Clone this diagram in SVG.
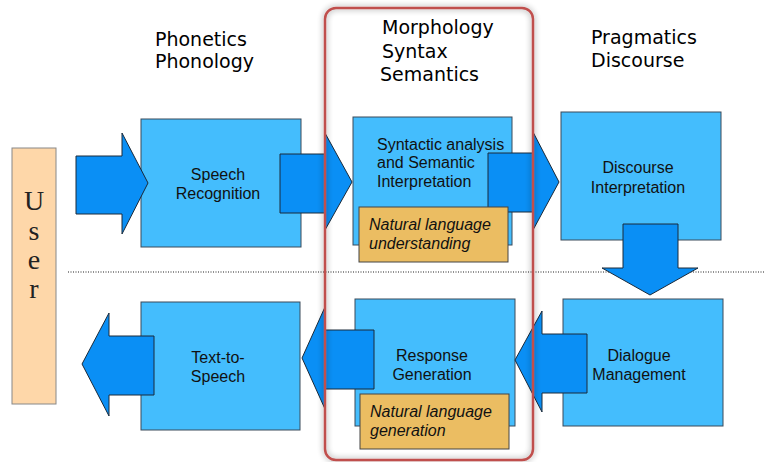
<svg xmlns="http://www.w3.org/2000/svg" width="765" height="462" viewBox="0 0 765 462">
  <defs>
    <style>
      .hdr { font-family: "DejaVu Sans", Verdana, sans-serif; font-size: 19px; fill: #000; }
      .box { fill: #44bdfd; stroke: #3a4a5a; stroke-width: 1; }
      .arrow { fill: #0a8ff5; stroke: #1a2a3a; stroke-width: 1; }
      .note { fill: #ebbd62; stroke: #444; stroke-width: 1; }
      .lbl { font-family: "Liberation Sans", Arial, sans-serif; font-size: 16px; fill: #111; }
      .mid { text-anchor: middle; }
      .it { font-style: italic; }
      .user { font-family: "Liberation Serif", "Times New Roman", serif; font-size: 28px; fill: #222; text-anchor: middle; }
    </style>
    <filter id="soft" x="-10%" y="-10%" width="120%" height="120%">
      <feGaussianBlur in="SourceAlpha" stdDeviation="3"/>
      <feComponentTransfer><feFuncA type="linear" slope="0.45"/></feComponentTransfer>
      <feMerge><feMergeNode/><feMergeNode in="SourceGraphic"/></feMerge>
    </filter>
  </defs>

  <rect width="765" height="462" fill="#fff"/>

  <!-- column headings -->
  <g id="headings">
    <text class="hdr" x="155" y="46">Phonetics</text>
    <text class="hdr" x="155" y="68">Phonology</text>
    <text class="hdr" x="382" y="34">Morphology</text>
    <text class="hdr" x="382" y="58">Syntax</text>
    <text class="hdr" x="380" y="81">Semantics</text>
    <text class="hdr" x="591" y="44">Pragmatics</text>
    <text class="hdr" x="591" y="67">Discourse</text>
  </g>

  <!-- separator between input and output rows -->
  <line x1="68" y1="272" x2="765" y2="272" stroke="#222" stroke-width="1.2" stroke-dasharray="1 1.5"/>

  <g id="user">
    <rect x="12" y="148" width="44" height="256" fill="#fed7a9" stroke="#888" stroke-width="1"/>
    <text class="user" x="34" y="210">U</text>
    <text class="user" x="34" y="240">s</text>
    <text class="user" x="34" y="269">e</text>
    <text class="user" x="34" y="298">r</text>
  </g>

  <g id="speech-recognition">
    <rect class="box" x="141" y="119" width="160" height="128"/>
    <text class="lbl mid" x="218" y="180">Speech</text>
    <text class="lbl mid" x="218" y="199">Recognition</text>
  </g>

  <g id="syntactic-analysis">
    <rect class="box" x="353" y="117" width="159" height="128"/>
    <text class="lbl" x="377" y="150">Syntactic analysis</text>
    <text class="lbl" x="377" y="168">and Semantic</text>
    <text class="lbl" x="377" y="187">Interpretation</text>
  </g>

  <g id="discourse-interpretation">
    <rect class="box" x="561" y="112" width="160" height="128"/>
    <text class="lbl mid" x="638" y="173">Discourse</text>
    <text class="lbl mid" x="638" y="193">Interpretation</text>
  </g>

  <g id="text-to-speech">
    <rect class="box" x="141" y="302" width="159" height="128"/>
    <text class="lbl mid" x="218" y="363">Text-to-</text>
    <text class="lbl mid" x="218" y="382">Speech</text>
  </g>

  <g id="response-generation">
    <rect class="box" x="355" y="299" width="160" height="127"/>
    <text class="lbl mid" x="432" y="361">Response</text>
    <text class="lbl mid" x="432" y="380">Generation</text>
  </g>

  <g id="dialogue-management">
    <rect class="box" x="563" y="299" width="160" height="127"/>
    <text class="lbl mid" x="639" y="361">Dialogue</text>
    <text class="lbl mid" x="639" y="380">Management</text>
  </g>

  <!-- block arrows between stages -->
  <g id="connectors">
    <polygon class="arrow" points="76,156 122,156 122,133 148,183 122,234 122,214 76,214"/>
    <polygon class="arrow" points="280,154 325,154 325,133 352,182 325,230 325,213 280,213"/>
    <polygon class="arrow" points="488,153 533,153 533,132 559,182 533,230 533,212 488,212"/>
    <polygon class="arrow" points="623,224 678,224 678,268 698,268 650,295 602,268 623,268"/>
    <polygon class="arrow" points="587,334 542,334 542,311 515,360 542,412 542,393 587,393"/>
    <polygon class="arrow" points="374,330 325,330 325,307 302,358 325,409 325,389 374,389"/>
    <polygon class="arrow" points="154,336 109,336 109,313 82,364 109,416 109,395 154,395"/>
  </g>

  <g id="nl-understanding">
    <rect class="note" x="359" y="207" width="149" height="55"/>
    <text class="lbl it" x="369" y="230">Natural language</text>
    <text class="lbl it" x="369" y="249">understanding</text>
  </g>

  <g id="nl-generation">
    <rect class="note" x="360" y="394" width="149" height="55"/>
    <text class="lbl it" x="370" y="417">Natural language</text>
    <text class="lbl it" x="370" y="436">generation</text>
  </g>

  <!-- highlight around the middle column -->
  <g id="highlight">
    <rect x="325" y="8" width="208" height="452" rx="11" ry="11" fill="none" stroke="#c0504d" stroke-width="2.5" filter="url(#soft)"/>
  </g>
</svg>
